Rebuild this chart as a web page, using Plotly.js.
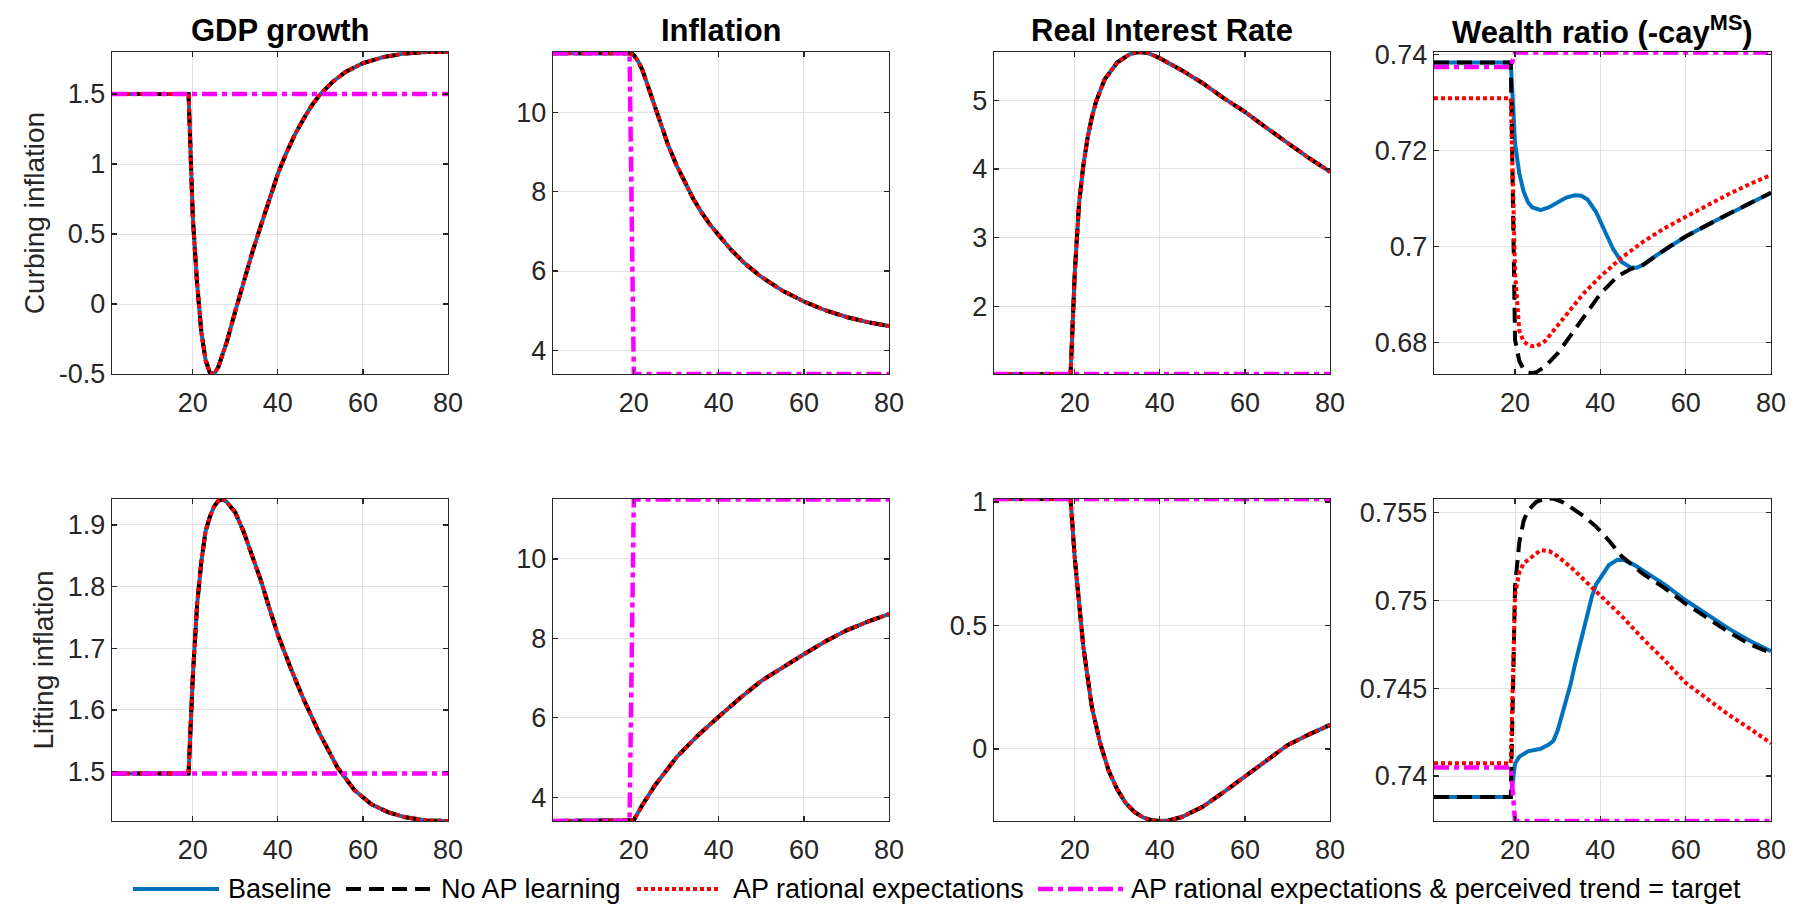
<!DOCTYPE html>
<html>
<head>
<meta charset="utf-8">
<script src="https://cdn.plot.ly/plotly-3.0.1.min.js"></script>
<style>html,body{margin:0;padding:0;background:#fff;}#chart{width:1796px;height:908px;}</style>
</head>
<body>
<div id="chart"></div>
<script>
// ---------- labels ----------
const seriesNames = ['Baseline', 'No AP learning', 'AP rational expectations', 'AP rational expectations & perceived trend = target'];
const panelTitles = ['GDP growth', 'Inflation', 'Real Interest Rate', 'Wealth ratio (-cay<sup>MS</sup>)'];
const rowLabels = ['Curbing inflation', 'Lifting inflation'];
const xTickVals = [20, 40, 60, 80];

// ---------- Curbing inflation (top row) ----------
// GDP growth: Baseline, No AP learning and AP rational expectations coincide
const curbGdpT = [1, 19, 20, 21, 22, 23, 24, 25, 26, 28, 30, 32, 34, 36, 38, 40, 42, 44, 46, 48, 50, 53, 56, 60, 65, 70, 75, 80];
const curbGdpY = [1.5, 1.5, 0.62, 0.15, -0.2, -0.4, -0.49, -0.5, -0.45, -0.27, -0.05, 0.17, 0.37, 0.56, 0.75, 0.93, 1.08, 1.21, 1.32, 1.42, 1.50, 1.59, 1.66, 1.72, 1.765, 1.79, 1.80, 1.80];
const curbGdpTgtT = [1, 80];
const curbGdpTgtY = [1.5, 1.5];

// Inflation
const curbInfT = [1, 19, 20, 21, 22, 24, 26, 28, 30, 32, 34, 36, 38, 40, 43, 46, 50, 55, 60, 65, 70, 75, 80];
const curbInfY = [11.5, 11.5, 11.45, 11.3, 11.08, 10.45, 9.8, 9.2, 8.68, 8.22, 7.82, 7.47, 7.16, 6.9, 6.52, 6.2, 5.85, 5.5, 5.23, 5.01, 4.84, 4.71, 4.61];
const curbInfTgtT = [1, 19, 20, 80];
const curbInfTgtY = [11.5, 11.5, 3.4, 3.4];

// Real interest rate
const curbRirT = [1, 19, 20, 21, 22, 23, 24, 25, 27, 30, 33, 35, 37, 40, 45, 50, 55, 60, 65, 70, 75, 80];
const curbRirY = [1.02, 1.02, 2.5, 3.5, 4.05, 4.45, 4.75, 4.98, 5.3, 5.55, 5.67, 5.70, 5.69, 5.61, 5.44, 5.25, 5.03, 4.83, 4.6, 4.38, 4.16, 3.96];
const curbRirTgtT = [1, 80];
const curbRirTgtY = [1.02, 1.02];

// Wealth ratio
const curbWealthBaseT = [1, 19, 20, 21, 22, 23, 24, 26, 28, 30, 32, 34, 35.5, 37, 39, 41, 43, 45, 47, 48.5, 50, 53, 56, 60, 65, 70, 75, 80];
const curbWealthBaseY = [0.7383, 0.7383, 0.7215, 0.7152, 0.7115, 0.7093, 0.7082, 0.7076, 0.7082, 0.7092, 0.7102, 0.7107, 0.7106, 0.7098, 0.7072, 0.7033, 0.6995, 0.6968, 0.6957, 0.6956, 0.6962, 0.6981, 0.6999, 0.7021, 0.7045, 0.7068, 0.709, 0.7112];
const curbWealthNoApT = [1, 19, 20, 21, 22, 23, 24, 25, 27, 30, 33, 36, 40, 44, 47, 50, 53, 56, 60, 65, 70, 75, 80];
const curbWealthNoApY = [0.7383, 0.7383, 0.6806, 0.6762, 0.6745, 0.6738, 0.6737, 0.6739, 0.675, 0.6778, 0.6815, 0.6852, 0.6902, 0.6938, 0.6953, 0.6962, 0.6981, 0.6999, 0.7021, 0.7045, 0.7068, 0.709, 0.7112];
const curbWealthReT = [1, 19, 20, 21, 22, 23, 24, 25, 27, 30, 33, 36, 40, 45, 50, 55, 60, 65, 70, 75, 80];
const curbWealthReY = [0.7309, 0.7309, 0.6945, 0.6825, 0.6803, 0.6796, 0.6793, 0.6793, 0.6803, 0.6835, 0.687, 0.6902, 0.6938, 0.6977, 0.701, 0.7038, 0.7062, 0.7086, 0.7109, 0.713, 0.7149];
const curbWealthTgtT = [1, 19, 20, 80];
const curbWealthTgtY = [0.7374, 0.7374, 0.7404, 0.7404];

// ---------- Lifting inflation (bottom row) ----------
const liftGdpT = [1, 19, 20, 21, 22, 23, 24, 25, 26, 27, 28, 30, 32, 34, 36, 38, 40, 43, 46, 50, 54, 58, 62, 66, 70, 75, 80];
const liftGdpY = [1.497, 1.497, 1.654, 1.77, 1.84, 1.89, 1.913, 1.93, 1.939, 1.942, 1.937, 1.92, 1.888, 1.85, 1.81, 1.765, 1.722, 1.668, 1.618, 1.559, 1.507, 1.47, 1.447, 1.434, 1.426, 1.421, 1.42];
const liftGdpTgtT = [1, 80];
const liftGdpTgtY = [1.497, 1.497];

const liftInfT = [1, 19, 20, 22, 25, 30, 35, 40, 45, 50, 55, 60, 65, 70, 75, 80];
const liftInfY = [3.4, 3.4, 3.42, 3.8, 4.3, 5.0, 5.55, 6.03, 6.5, 6.93, 7.28, 7.6, 7.92, 8.2, 8.42, 8.61];
const liftInfTgtT = [1, 19, 20, 80];
const liftInfTgtY = [3.4, 3.4, 11.5, 11.5];

const liftRirT = [1, 19, 20, 21, 22, 24, 26, 28, 30, 32, 34, 36, 38, 40, 42, 45, 50, 55, 60, 65, 68, 70, 75, 80];
const liftRirY = [1.012, 1.012, 0.77, 0.57, 0.415, 0.17, 0.02, -0.09, -0.165, -0.22, -0.255, -0.277, -0.289, -0.292, -0.29, -0.277, -0.235, -0.175, -0.112, -0.05, -0.01, 0.015, 0.058, 0.097];
const liftRirTgtT = [1, 80];
const liftRirTgtY = [1.012, 1.012];

const liftWealthBaseT = [1, 19, 20, 21, 23, 26, 28, 29, 30, 31, 32, 33, 34, 35, 36, 37, 38, 39, 40, 42, 44, 45.5, 48, 50, 55, 60, 65, 70, 75, 80];
const liftWealthBaseY = [0.7388, 0.7388, 0.7407, 0.7411, 0.7414, 0.74155, 0.7418, 0.742, 0.7426, 0.7434, 0.7443, 0.7452, 0.7463, 0.7473, 0.7484, 0.7494, 0.7502, 0.7509, 0.7513, 0.752, 0.7523, 0.75229, 0.7520, 0.7517, 0.7509, 0.75, 0.7492, 0.7484, 0.7477, 0.7471];
const liftWealthNoApT = [1, 19, 20, 21, 22, 23, 25, 27, 29, 31, 33, 36, 39, 42, 45, 48, 50, 55, 60, 65, 70, 75, 80];
const liftWealthNoApY = [0.7388, 0.7388, 0.7508, 0.7533, 0.7545, 0.7551, 0.7556, 0.7558, 0.75578, 0.7556, 0.7553, 0.7548, 0.75419, 0.7534, 0.7525, 0.7519, 0.7515, 0.7507, 0.7498, 0.749, 0.7482, 0.7475, 0.747];
const liftWealthReT = [1, 19, 20, 21, 22, 24, 26, 28, 30, 33, 36, 40, 45, 50, 55, 60, 65, 70, 75, 80];
const liftWealthReY = [0.74072, 0.74072, 0.7503, 0.7516, 0.7521, 0.7525, 0.75285, 0.7528, 0.7525, 0.7519, 0.7512, 0.7502, 0.7491, 0.7478, 0.7466, 0.7453, 0.7444, 0.7435, 0.7427, 0.74186];
const liftWealthTgtT = [1, 19, 20, 80];
const liftWealthTgtY = [0.74049, 0.74049, 0.73744, 0.73744];

// ---------- panel y-axis setup ----------
const yRanges = [[-0.5, 1.80], [3.40, 11.53], [1.02, 5.70], [0.6735, 0.7405],
                 [1.42, 1.942], [3.40, 11.51], [-0.292, 1.012], [0.73744, 0.75576]];
const yTickVals = [[-0.5, 0, 0.5, 1, 1.5], [4, 6, 8, 10], [2, 3, 4, 5], [0.68, 0.70, 0.72, 0.74],
                   [1.5, 1.6, 1.7, 1.8, 1.9], [4, 6, 8, 10], [0, 0.5, 1], [0.74, 0.745, 0.75, 0.755]];
const yTickText = [['-0.5', '0', '0.5', '1', '1.5'], ['4', '6', '8', '10'], ['2', '3', '4', '5'], ['0.68', '0.7', '0.72', '0.74'],
                   ['1.5', '1.6', '1.7', '1.8', '1.9'], ['4', '6', '8', '10'], ['0', '0.5', '1'], ['0.74', '0.745', '0.75', '0.755']];

// each panel: [baseline, noAP, APRE, target] as [t, y]
const panels = [
  [[curbGdpT, curbGdpY], [curbGdpT, curbGdpY], [curbGdpT, curbGdpY], [curbGdpTgtT, curbGdpTgtY]],
  [[curbInfT, curbInfY], [curbInfT, curbInfY], [curbInfT, curbInfY], [curbInfTgtT, curbInfTgtY]],
  [[curbRirT, curbRirY], [curbRirT, curbRirY], [curbRirT, curbRirY], [curbRirTgtT, curbRirTgtY]],
  [[curbWealthBaseT, curbWealthBaseY], [curbWealthNoApT, curbWealthNoApY], [curbWealthReT, curbWealthReY], [curbWealthTgtT, curbWealthTgtY]],
  [[liftGdpT, liftGdpY], [liftGdpT, liftGdpY], [liftGdpT, liftGdpY], [liftGdpTgtT, liftGdpTgtY]],
  [[liftInfT, liftInfY], [liftInfT, liftInfY], [liftInfT, liftInfY], [liftInfTgtT, liftInfTgtY]],
  [[liftRirT, liftRirY], [liftRirT, liftRirY], [liftRirT, liftRirY], [liftRirTgtT, liftRirTgtY]],
  [[liftWealthBaseT, liftWealthBaseY], [liftWealthNoApT, liftWealthNoApY], [liftWealthReT, liftWealthReY], [liftWealthTgtT, liftWealthTgtY]]
];

// ---------- styles ----------
const lineStyles = [
  {color: '#0072BD', width: 4, dash: 'solid'},
  {color: '#000000', width: 4, dash: '15px,8px'},
  {color: '#FF0000', width: 4, dash: '4px,3px'},
  {color: '#FF00FF', width: 4.5, dash: '15px,5px,5px,5px'}
];

const W = 1796, H = 908;
const colLeft = [112, 553, 994, 1434];
const colRight = [448, 889, 1330, 1771];
const rowTop = [52, 499];
const rowBottom = [374, 821];
const FONT = '"Liberation Sans", Arial, Helvetica, sans-serif';
const AXC = '#262626';

const traces = [];
const layout = {
  width: W, height: H,
  margin: {l: 0, r: 0, t: 0, b: 0},
  paper_bgcolor: '#ffffff', plot_bgcolor: '#ffffff',
  font: {family: FONT, color: AXC},
  showlegend: false,
  annotations: [],
  shapes: []
};

for (let p = 0; p < 8; p++) {
  const row = Math.floor(p / 4), col = p % 4;
  const ax = p === 0 ? '' : String(p + 1);
  for (let s = 0; s < 4; s++) {
    const st = lineStyles[s];
    traces.push({
      type: 'scatter', mode: 'lines',
      x: panels[p][s][0], y: panels[p][s][1],
      xaxis: 'x' + ax, yaxis: 'y' + ax,
      name: seriesNames[s],
      line: {color: st.color, width: st.width, dash: st.dash, shape: 'linear'},
      cliponaxis: false, hoverinfo: 'skip'
    });
  }
  const common = {
    showline: true, linecolor: AXC, linewidth: 1.3, mirror: 'ticks',
    ticks: 'inside', ticklen: 5, tickwidth: 1.2, tickcolor: AXC,
    showgrid: true, gridcolor: '#e3e3e3', gridwidth: 1, zeroline: false,
    tickfont: {family: FONT, size: 27, color: AXC}, fixedrange: true
  };
  layout['xaxis' + ax] = Object.assign({}, common, {
    domain: [colLeft[col] / W, colRight[col] / W],
    range: [1, 80], tickmode: 'array', tickvals: xTickVals, ticktext: xTickVals.map(String),
    anchor: 'y' + ax, ticklabelstandoff: 4
  });
  const yax = Object.assign({}, common, {
    domain: [1 - rowBottom[row] / H, 1 - rowTop[row] / H],
    range: yRanges[p], tickmode: 'array', tickvals: yTickVals[p], ticktext: yTickText[p],
    anchor: 'x' + ax
  });
  if (col === 0) {
    yax.title = {text: rowLabels[row], font: {family: FONT, size: 28, color: AXC}, standoff: 6};
  }
  layout['yaxis' + ax] = yax;
  if (row === 0) {
    layout.annotations.push({
      xref: 'paper', yref: 'paper',
      x: (colLeft[col] + colRight[col]) / 2 / W, y: 1 - 30 / H,
      xanchor: 'center', yanchor: 'middle', showarrow: false,
      text: '<b>' + panelTitles[col] + '</b>',
      font: {family: FONT, size: 31, color: '#000000'}
    });
  }
}

// ---------- legend (drawn as a key row under the panels) ----------
const keyLineStart = [133, 346, 637, 1038];
const keyLineEnd = [219, 432, 719, 1123];
const keyTextStart = [226, 439, 731, 1129];
const keyY = 1 - 889 / H;
for (let s = 0; s < 4; s++) {
  const st = lineStyles[s];
  layout.shapes.push({
    type: 'line', xref: 'paper', yref: 'paper',
    x0: keyLineStart[s] / W, x1: keyLineEnd[s] / W, y0: keyY, y1: keyY,
    line: {color: st.color, width: st.width, dash: st.dash}
  });
  layout.annotations.push({
    xref: 'paper', yref: 'paper', x: keyTextStart[s] / W, y: keyY,
    xanchor: 'left', yanchor: 'middle', showarrow: false,
    text: seriesNames[s], font: {family: FONT, size: 27, color: '#000000'}
  });
}

Plotly.newPlot('chart', traces, layout, {displayModeBar: false, staticPlot: true});
</script>
</body>
</html>
